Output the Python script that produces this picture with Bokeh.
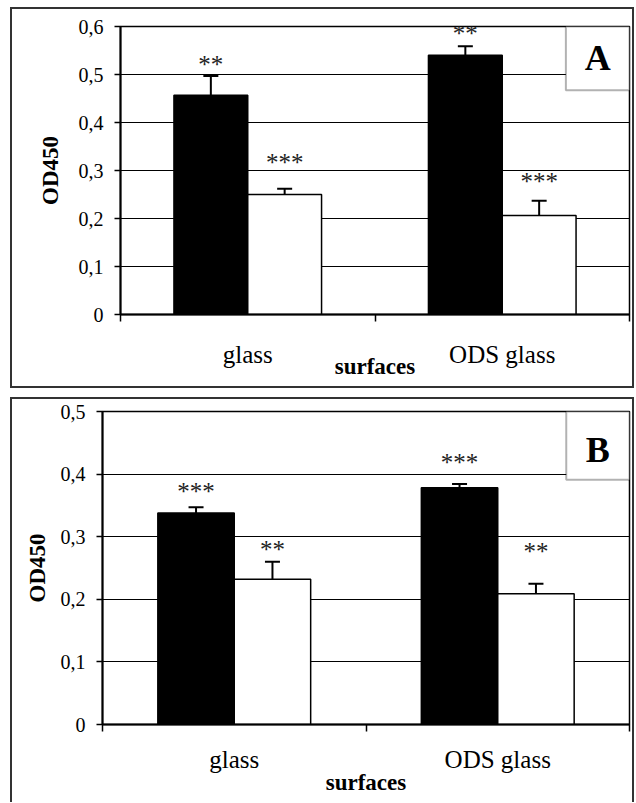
from bokeh.plotting import figure
from bokeh.models import (FixedTicker, CustomJSTickFormatter, Range1d, Whisker, TeeHead,
                          ColumnDataSource, BoxAnnotation, Label)
from bokeh.core.properties import value
from bokeh.embed import file_html
from bokeh.resources import INLINE

# ---------------- data ----------------
categories = ["glass", "ODS glass"]

# Panel A
a_black = [0.457, 0.540]
a_black_err = [0.040, 0.019]
a_white = [0.250, 0.206]
a_white_err = [0.012, 0.031]
a_black_sig = ["**", "**"]
a_white_sig = ["***", "***"]
a_black_sig_y = [0.521, 0.586]
a_white_sig_y = [0.317, 0.277]
a_yticks = [0.0, 0.1, 0.2, 0.3, 0.4, 0.5, 0.6]

# Panel B
b_black = [0.338, 0.378]
b_black_err = [0.009, 0.006]
b_white = [0.232, 0.209]
b_white_err = [0.028, 0.016]
b_black_sig = ["***", "***"]
b_white_sig = ["**", "**"]
b_black_sig_y = [0.372, 0.418]
b_white_sig_y = [0.280, 0.276]
b_yticks = [0.0, 0.1, 0.2, 0.3, 0.4, 0.5]

FONT = "Liberation Serif"


def make_panel(letter, yticks, black, black_err, white, white_err,
               black_sig, black_sig_y, white_sig, white_sig_y,
               width, height, borders, margin, styles,
               ylabel_standoff, xmajor_standoff, xlabel_standoff,
               box_left, box_bottom, letter_y):
    ymax = yticks[-1]
    p = figure(width=width, height=height,
               x_range=Range1d(0, len(categories)), y_range=Range1d(0, ymax),
               output_backend="svg", toolbar_location=None,
               min_border_left=borders[0], min_border_right=borders[1],
               min_border_top=borders[2], min_border_bottom=borders[3],
               margin=margin, styles=styles)
    p.background_fill_color = "white"
    p.border_fill_color = "white"
    p.outline_line_color = "black"
    p.outline_line_width = 1.5

    # grid
    p.xgrid.visible = False
    p.ygrid.ticker = FixedTicker(ticks=yticks)
    p.ygrid.grid_line_color = "black"
    p.ygrid.grid_line_width = 1

    # y axis
    yax = p.yaxis[0]
    yax.ticker = FixedTicker(ticks=yticks)
    yax.formatter = CustomJSTickFormatter(
        code="const v = Math.round(tick*10)/10; return v.toString().replace('.', ',');")
    yax.major_tick_out = 6
    yax.major_tick_in = 0
    yax.minor_tick_out = 0
    yax.minor_tick_in = 0
    yax.axis_line_width = 2
    yax.axis_line_color = "black"
    yax.major_tick_line_color = "black"
    yax.major_tick_line_width = 1.5
    yax.major_label_text_font = FONT
    yax.major_label_text_font_size = "20px"
    yax.major_label_text_color = "black"
    yax.major_label_standoff = 11
    yax.axis_label = "OD450"
    yax.axis_label_text_font = FONT
    yax.axis_label_text_font_style = "bold"
    yax.axis_label_text_font_size = "23px"
    yax.axis_label_text_color = "black"
    yax.axis_label_standoff = ylabel_standoff

    # x axis: category labels at centres, ticks at boundaries
    n = len(categories)
    xax = p.xaxis[0]
    xax.ticker = FixedTicker(ticks=[i + 0.5 for i in range(n)],
                             minor_ticks=list(range(n + 1)))
    xax.formatter = CustomJSTickFormatter(args=dict(cats=categories),
                                          code="return cats[Math.floor(tick)];")
    xax.major_tick_out = 0
    xax.major_tick_in = 0
    xax.minor_tick_out = 7
    xax.minor_tick_in = 0
    xax.minor_tick_line_color = "black"
    xax.minor_tick_line_width = 1.5
    xax.axis_line_width = 2
    xax.axis_line_color = "black"
    xax.major_label_text_font = FONT
    xax.major_label_text_font_size = "25px"
    xax.major_label_text_color = "black"
    xax.major_label_standoff = xmajor_standoff
    xax.axis_label = "surfaces"
    xax.axis_label_text_font = FONT
    xax.axis_label_text_font_style = "bold"
    xax.axis_label_text_font_size = "23px"
    xax.axis_label_text_color = "black"
    xax.axis_label_standoff = xlabel_standoff

    # bars
    bw = 0.29
    xb = [i + 0.5 - bw / 2 for i in range(n)]
    xw = [i + 0.5 + bw / 2 for i in range(n)]
    p.vbar(x=xb, top=black, width=bw, fill_color="black", line_color="black", line_width=1.5)
    p.vbar(x=xw, top=white, width=bw, fill_color="white", line_color="black", line_width=1.5)

    # error bars (upper only)
    src = ColumnDataSource(data=dict(
        x=xb + xw,
        lower=list(black) + list(white),
        upper=[v + e for v, e in zip(black, black_err)] + [v + e for v, e in zip(white, white_err)],
    ))
    wh = Whisker(base="x", lower="lower", upper="upper", dimension="height", source=src,
                 line_color="black", line_width=2, level="annotation",
                 upper_head=TeeHead(size=15, line_color="black", line_width=2),
                 lower_head=None)
    p.add_layout(wh)

    # significance stars
    p.text(x=xb + xw, y=list(black_sig_y) + list(white_sig_y),
           text=list(black_sig) + list(white_sig),
           text_font=value(FONT), text_font_size="25px", text_color="#222222",
           text_align="center", text_baseline="middle")

    # panel letter box
    box = BoxAnnotation(left=box_left, right=n, top=ymax, bottom=box_bottom,
                        fill_color="white", fill_alpha=1.0,
                        line_color="black", line_width=2, level="overlay")
    p.add_layout(box)
    lab = Label(x=(box_left + n) / 2, y=letter_y, text=letter,
                text_font=FONT, text_font_style="bold", text_font_size="36px",
                text_color="black", text_align="center", text_baseline="middle",
                level="overlay")
    p.add_layout(lab)
    return p


border_css = "2px solid #333333"
pA = make_panel("A", a_yticks, a_black, a_black_err, a_white, a_white_err,
                a_black_sig, a_black_sig_y, a_white_sig, a_white_sig_y,
                width=624, height=381, borders=(108, 7, 17, 76),
                margin=(7, 0, 0, 10),
                styles={"border": border_css},
                ylabel_standoff=13, xmajor_standoff=19, xlabel_standoff=-17,
                box_left=1.75, box_bottom=0.467, letter_y=0.534)

pB = make_panel("B", b_yticks, b_black, b_black_err, b_white, b_white_err,
                b_black_sig, b_black_sig_y, b_white_sig, b_white_sig_y,
                width=624, height=405, borders=(90, 7, 12, 80),
                margin=(9, 0, 0, 10),
                styles={"border-top": border_css, "border-left": border_css,
                        "border-right": border_css},
                ylabel_standoff=8, xmajor_standoff=14, xlabel_standoff=-6,
                box_left=1.76, box_bottom=0.391, letter_y=0.438)

open("out.html", "w").write(file_html([pA, pB], INLINE))
